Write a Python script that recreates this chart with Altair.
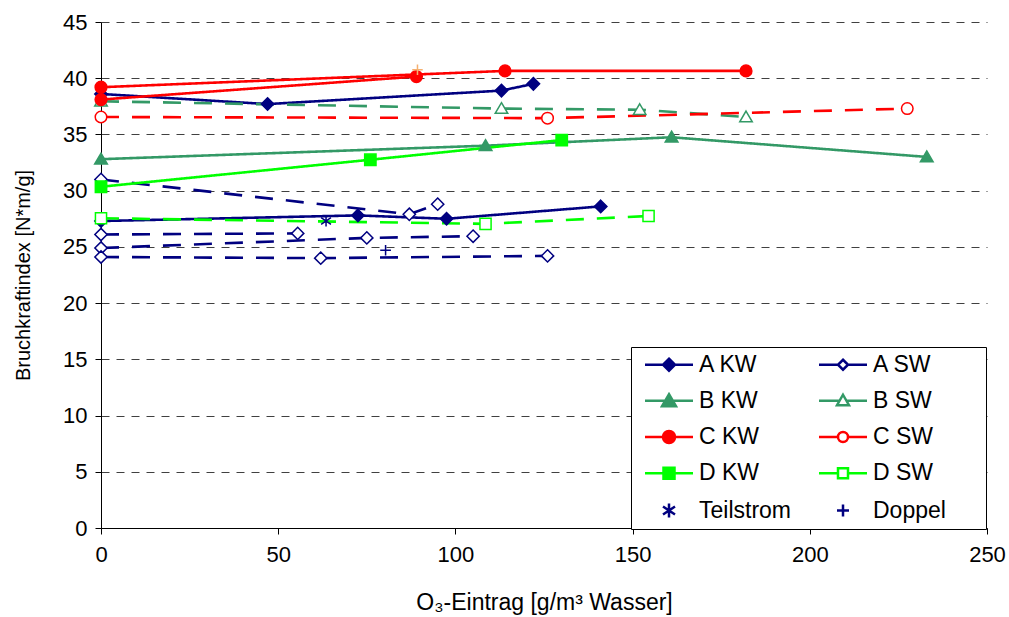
import altair as alt
import pandas as pd

# ---------------- data ----------------
series_names = ["A KW", "A SW", "B KW", "B SW", "C KW", "C SW",
                "D KW", "D SW", "Teilstrom", "Doppel"]

a_kw_1_x = [0, 47, 113, 122];      a_kw_1_y = [38.6, 37.7, 38.9, 39.5]
a_kw_2_x = [0, 72.5, 97.5, 141];   a_kw_2_y = [27.3, 27.8, 27.5, 28.6]
a_sw_1_x = [0, 87, 95];            a_sw_1_y = [31.0, 27.9, 28.8]
a_sw_2_x = [0, 55.5];              a_sw_2_y = [26.1, 26.2]
a_sw_3_x = [0, 75, 105];           a_sw_3_y = [24.9, 25.8, 25.95]
a_sw_4_x = [0, 62, 126];           a_sw_4_y = [24.1, 24.0, 24.2]
b_kw_x = [0, 108.5, 161, 233];     b_kw_y = [32.8, 34.0, 34.75, 33.0]
b_sw_x = [0, 113, 152, 182];       b_sw_y = [37.95, 37.3, 37.2, 36.55]
c_kw_1_x = [0, 114, 182];          c_kw_1_y = [39.2, 40.65, 40.65]
c_kw_2_x = [0, 89];                c_kw_2_y = [38.1, 40.15]
c_sw_x = [0, 126, 227.5];          c_sw_y = [36.55, 36.45, 37.3]
d_kw_x = [0, 76, 130];             d_kw_y = [30.35, 32.75, 34.5]
d_sw_x = [0, 108.5, 154.5];        d_sw_y = [27.55, 27.05, 27.75]
teilstrom_x = [63.5];              teilstrom_y = [27.3]
doppel_x = [80.3];                 doppel_y = [24.7]
doppel_c_x = [89.3];               doppel_c_y = [40.75]

x_ticks = [0, 50, 100, 150, 200, 250]
y_ticks = [0, 5, 10, 15, 20, 25, 30, 35, 40, 45]

# ---------------- styles ----------------
NAVY, GREEN, RED, LIME, WHITE = "#000080", "#339966", "#FF0000", "#00FF00", "#FFFFFF"
stroke_range = [NAVY, NAVY, GREEN, GREEN, RED, RED, LIME, LIME, NAVY, NAVY]
fill_range = [NAVY, WHITE, GREEN, WHITE, RED, WHITE, LIME, WHITE, "transparent", "transparent"]
dash_range = [[1, 0], [18, 13], [1, 0], [18, 13], [1, 0], [18, 13],
              [1, 0], [18, 13], [1, 0], [1, 0]]

DIAMOND = "M0,-1L1,0L0,1L-1,0Z"
TRI = "M0,-1L1.05,0.8L-1.05,0.8Z"
ASTER = "M0,-1L0,1M-0.9,-0.6L0.9,0.6M-0.9,0.6L0.9,-0.6"
PLUS = "M-1,0L1,0M0,-1L0,1"
shape_range = [DIAMOND, DIAMOND, TRI, TRI, "circle", "circle", "square", "square", ASTER, PLUS]
size_range = [155, 115, 150, 115, 190, 130, 130, 115, 180, 160]

# legend symbols: a short line with the marker in the middle
EXT = "M-3.2,0L-3.2,0M13.17,0L13.17,0"
LINE = "M-2.4,0L2.4,0"
leg_paths = [
    EXT + LINE + "M0,-0.6L0.6,0L0,0.6L-0.6,0Z",
    EXT + "M-2.4,0L-0.5,0M0.5,0L2.4,0M0,-0.5L0.5,0L0,0.5L-0.5,0Z",
    EXT + LINE + "M0,-0.65L0.7,0.55L-0.7,0.55Z",
    EXT + "M-2.4,0L-0.36,0M0.36,0L2.4,0M0,-0.6L0.6,0.45L-0.6,0.45Z",
    EXT + LINE + "M-0.6,0A0.6,0.6 0 1,0 0.6,0A0.6,0.6 0 1,0 -0.6,0Z",
    EXT + "M-2.4,0L-0.5,0M0.5,0L2.4,0M-0.5,0A0.5,0.5 0 1,0 0.5,0A0.5,0.5 0 1,0 -0.5,0Z",
    EXT + LINE + "M-0.55,-0.55L0.55,-0.55L0.55,0.55L-0.55,0.55Z",
    EXT + "M-2.4,0L-0.5,0M0.5,0L2.4,0M-0.5,-0.5L0.5,-0.5L0.5,0.5L-0.5,0.5Z",
    EXT + "M0,-0.7L0,0.7M-0.6,-0.4L0.6,0.4M-0.6,0.4L0.6,-0.4",
    EXT + "M-0.6,0L0.6,0M0,-0.6L0,0.6",
]

FONT = "Liberation Sans"

# ---------------- table ----------------
groups = [
    ("A KW", "a1", a_kw_1_x, a_kw_1_y), ("A KW", "a2", a_kw_2_x, a_kw_2_y),
    ("A SW", "as1", a_sw_1_x, a_sw_1_y), ("A SW", "as2", a_sw_2_x, a_sw_2_y),
    ("A SW", "as3", a_sw_3_x, a_sw_3_y), ("A SW", "as4", a_sw_4_x, a_sw_4_y),
    ("B KW", "b1", b_kw_x, b_kw_y), ("B SW", "bs1", b_sw_x, b_sw_y),
    ("C KW", "c1", c_kw_1_x, c_kw_1_y), ("C KW", "c2", c_kw_2_x, c_kw_2_y),
    ("C SW", "cs1", c_sw_x, c_sw_y),
    ("D KW", "d1", d_kw_x, d_kw_y), ("D SW", "ds1", d_sw_x, d_sw_y),
    ("Teilstrom", "t1", teilstrom_x, teilstrom_y), ("Doppel", "p1", doppel_x, doppel_y),
]
rows = []
for s, lid, xs, ys in groups:
    for xv, yv in zip(xs, ys):
        rows.append({"series": s, "line": lid, "x": xv, "y": yv})
df = pd.DataFrame(rows)
df_extra = pd.DataFrame({"x": doppel_c_x, "y": doppel_c_y})

x_enc = alt.X("x:Q", scale=alt.Scale(domain=[0, 250], nice=False, zero=True),
              axis=alt.Axis(values=x_ticks, title="O₃-Eintrag [g/m³ Wasser]", grid=False,
                            tickSize=6, tickColor="black", domainColor="black", labelFlush=False,
                            labelFont=FONT, labelFontSize=22, labelColor="black", labelPadding=10,
                            titleFont=FONT, titleFontSize=23, titleFontWeight="normal",
                            titleColor="black", titlePadding=26))
y_enc = alt.Y("y:Q", scale=alt.Scale(domain=[0, 45], nice=False, zero=True),
              axis=alt.Axis(values=y_ticks, title="Bruchkraftindex [N*m/g]", grid=True,
                            gridDash=[8, 7], gridColor="#404040", gridWidth=1,
                            tickSize=6, tickColor="black", domainColor="black", labelFlush=False,
                            labelFont=FONT, labelFontSize=22, labelColor="black", labelPadding=8,
                            titleFont=FONT, titleFontSize=20, titleFontWeight="normal",
                            titleColor="black", titlePadding=29))

legend = alt.Legend(
    title=None, orient="none", legendX=530, legendY=325, columns=2, direction="horizontal",
    columnPadding=0, rowPadding=12.25, padding=6,
    fillColor="white", strokeColor="black",
    labelFont=FONT, labelFontSize=23, labelColor="black",
    symbolOffset=20.5, labelOffset=18.5,
    symbolSize=400, symbolStrokeWidth=2.5, symbolOpacity=1,
)

lines = alt.Chart(df).transform_filter(
    "datum.series != 'Teilstrom' && datum.series != 'Doppel'"
).mark_line(strokeWidth=2.6, strokeCap="butt").encode(
    x=x_enc, y=y_enc,
    color=alt.Color("series:N", scale=alt.Scale(domain=series_names, range=stroke_range),
                    legend=None),
    strokeDash=alt.StrokeDash("series:N", scale=alt.Scale(domain=series_names, range=dash_range),
                              legend=None),
    detail="line:N",
)

points = alt.Chart(df).mark_point(opacity=1, strokeWidth=1.5).encode(
    x="x:Q", y="y:Q",
    shape=alt.Shape("series:N", scale=alt.Scale(domain=series_names, range=shape_range), legend=None),
    stroke=alt.Stroke("series:N", scale=alt.Scale(domain=series_names, range=stroke_range), legend=None),
    fill=alt.Fill("series:N", scale=alt.Scale(domain=series_names, range=fill_range), legend=None),
    size=alt.Size("series:N", scale=alt.Scale(domain=series_names, range=size_range), legend=None),
)

extra = alt.Chart(df_extra).mark_point(shape=PLUS, size=110, color="#F5B070", filled=False,
                                       opacity=1, strokeWidth=1.5).encode(x="x:Q", y="y:Q")

# legend-only layer: no rows drawn, the legend comes from its scales' fixed domain
legend_layer = alt.Chart(df).transform_filter("false").mark_point(
    opacity=1, strokeWidth=2.5, filled=True
).encode(
    x="x:Q", y="y:Q",
    shape=alt.Shape("series:N", scale=alt.Scale(domain=series_names, range=leg_paths), legend=legend),
    stroke=alt.Stroke("series:N", scale=alt.Scale(domain=series_names, range=stroke_range), legend=legend),
    fill=alt.Fill("series:N", scale=alt.Scale(domain=series_names, range=fill_range), legend=legend),
)

chart = alt.layer(lines, points, extra, legend_layer).resolve_scale(
    shape="independent", stroke="independent", fill="independent",
    color="independent", strokeDash="independent", size="independent",
).properties(
    width=886, height=506,
    padding={"left": 101, "top": 22, "right": 22, "bottom": 89},
    autosize=alt.AutoSizeParams(type="none"),
    background="white",
).configure_view(strokeWidth=0)

chart.save("out.html", embed_options={"renderer": "svg", "actions": False})
